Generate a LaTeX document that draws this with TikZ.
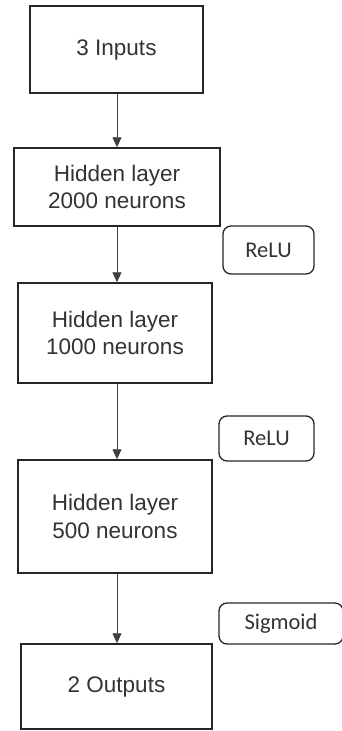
\documentclass[tikz,border=0pt]{standalone}
\usepackage{fontspec}
\setmainfont{Liberation Sans}
\newfontfamily\actfont{Carlito}
\usetikzlibrary{arrows.meta}
\definecolor{txt}{HTML}{333333}
\definecolor{edge}{HTML}{262626}
\definecolor{arrc}{HTML}{404040}
\begin{document}
\begin{tikzpicture}[x=1pt,y=-1pt,
  layer/.style={draw=edge,line width=1.5pt,rectangle,inner sep=0pt,align=center,
    text=txt,font=\fontsize{22.5}{27.5}\selectfont},
  act/.style={draw=edge,line width=1.3pt,rectangle,rounded corners=8pt,inner sep=0pt,
    text=txt,font=\actfont\fontsize{22.5}{27}\selectfont},
  arr/.style={draw=arrc,line width=0.9pt,-{Triangle[length=10pt,width=9pt]}}]
\useasboundingbox (0,0) rectangle (341,731);
\node[layer,minimum width=173pt,minimum height=87pt] (in) at (116.5,49.5) {3 Inputs};
\node[layer,minimum width=206pt,minimum height=78pt] (h1) at (117,187) {Hidden layer\\2000 neurons};
\node[act,minimum width=91pt,minimum height=48pt] (r1) at (268.5,250) {ReLU};
\node[layer,minimum width=194pt,minimum height=100pt] (h2) at (115,333) {Hidden layer\\1000 neurons};
\node[act,minimum width=95pt,minimum height=45pt] (r2) at (266.5,438.5) {ReLU};
\node[layer,minimum width=194pt,minimum height=113pt] (h3) at (115,516.5) {Hidden layer\\500 neurons};
\node[act,minimum width=124pt,minimum height=41pt] (sg) at (281,623.5) {Sigmoid};
\node[layer,minimum width=191pt,minimum height=85pt] (out) at (116.5,686.5) {2 Outputs};
\coordinate (ax) at (117,0);
\draw[arr] (in.south -| ax) -- (h1.north -| ax);
\draw[arr] (h1.south -| ax) -- (h2.north -| ax);
\draw[arr] (h2.south -| ax) -- (h3.north -| ax);
\draw[arr] (h3.south -| ax) -- (out.north -| ax);
\end{tikzpicture}
\end{document}
